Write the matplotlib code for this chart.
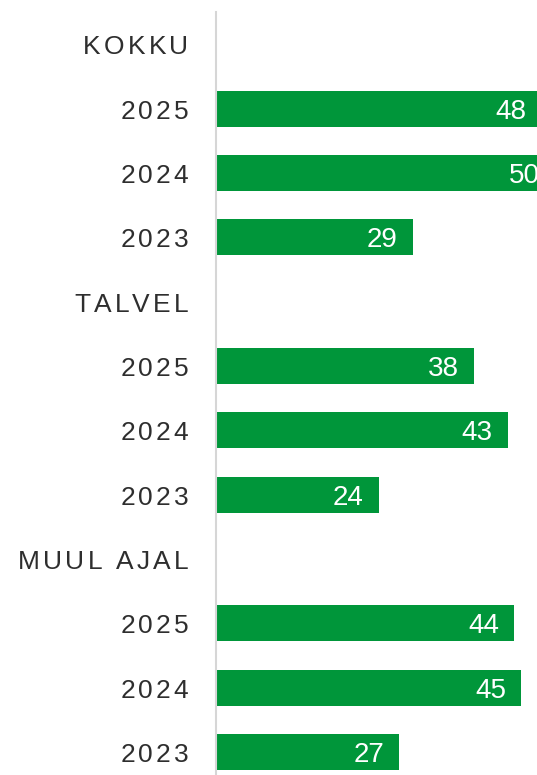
import matplotlib
matplotlib.use('Agg')
import matplotlib.pyplot as plt
from matplotlib import font_manager
from matplotlib.ft2font import FT2Font
from matplotlib.transforms import blended_transform_factory, IdentityTransform

# ---- data ----
groups = ['KOKKU', 'TALVEL', 'MUUL AJAL']
years = ['2025', '2024', '2023']
kokku = [48, 50, 29]
talvel = [38, 43, 24]
muul_ajal = [44, 45, 27]
series = [kokku, talvel, muul_ajal]

# ---- style ----
W, H, DPI = 537, 775, 100
BAR = '#00963a'
TXT = '#2e2e2e'
FAMILY = 'Liberation Sans'
CAT_SIZE = 19
VAL_SIZE = 20
SPACING_PX = 3.2
PX_PER_UNIT = 6.78
AX_LEFT_PX = 216
AX_TOP_PX = 12
LABEL_RIGHT_PX = 188.5
VAL_PAD_PX = 15
BASE_OFF = 10 / 64.33

labels = []
values = []
for g, vals in zip(groups, series):
    labels.append(g)
    values.append(None)
    for y, v in zip(years, vals):
        labels.append(y)
        values.append(v)

fig = plt.figure(figsize=(W / DPI, H / DPI), dpi=DPI)
ax = fig.add_axes([AX_LEFT_PX / W, 0, 1 - AX_LEFT_PX / W, (H - AX_TOP_PX) / H])

n = len(labels)
pos = list(range(n))
bar_pos = [p for p, v in zip(pos, values) if v is not None]
bar_val = [v for v in values if v is not None]
ax.barh(bar_pos, bar_val, height=0.56, color=BAR, zorder=1)

ax.set_xlim(0, (W - AX_LEFT_PX) / PX_PER_UNIT)
ax.set_ylim(11 + 23 / 64.33, -0.504)
ax.set_xticks([])
ax.set_yticks([])
for s in ['top', 'right', 'bottom']:
    ax.spines[s].set_visible(False)
ax.spines['left'].set_color('#d6d6d6')
ax.spines['left'].set_linewidth(1.5)

# value labels
pad_units = VAL_PAD_PX / PX_PER_UNIT
for p, v in zip(bar_pos, bar_val):
    ax.text(v - pad_units, p + BASE_OFF, str(v), ha='right', va='baseline',
            color='white', fontsize=VAL_SIZE, family=FAMILY, clip_on=False)

# letter-spaced category labels
fpath = font_manager.findfont(font_manager.FontProperties(family=FAMILY))
ft = FT2Font(fpath)
ft.set_size(CAT_SIZE, DPI)
tr = blended_transform_factory(IdentityTransform(), ax.transData)
for p, lab in zip(pos, labels):
    info = []
    x = 0.0
    for c in lab:
        g = ft.load_char(ord(c))
        adv = g.linearHoriAdvance / 65536
        info.append((c, x, adv))
        x += adv + SPACING_PX
    c, xl, advl = info[-1]
    shift = LABEL_RIGHT_PX - (xl + advl)
    for c, xp, adv in info:
        if c == ' ':
            continue
        ax.text(xp + shift, p + BASE_OFF, c, ha='left', va='baseline',
                color=TXT, fontsize=CAT_SIZE, family=FAMILY,
                transform=tr, clip_on=False)

fig.savefig('out.png', dpi=DPI)
